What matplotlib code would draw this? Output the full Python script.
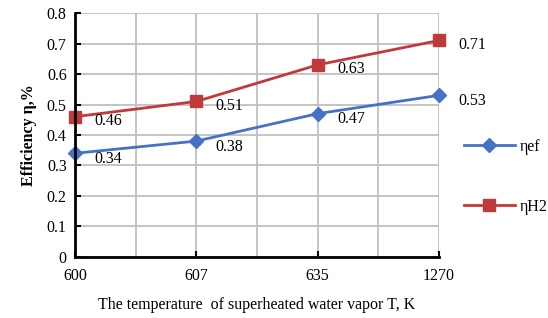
import matplotlib.pyplot as plt
from matplotlib.ticker import MultipleLocator

# data
temps = ["600", "607", "635", "1270"]
eta_ef = [0.34, 0.38, 0.47, 0.53]
eta_h2 = [0.46, 0.51, 0.63, 0.71]
yticks = [0, 0.1, 0.2, 0.3, 0.4, 0.5, 0.6, 0.7, 0.8]
ylabels = ["0", "0.1", "0.2", "0.3", "0.4", "0.5", "0.6", "0.7", "0.8"]

plt.rcParams["font.family"] = ["Liberation Serif", "DejaVu Serif"]
fs = 11.5

fig = plt.figure(figsize=(5.48, 3.18), dpi=100)
ax = fig.add_axes([0.137, 0.192, 0.664, 0.767])

x = list(range(len(temps)))
blue = "#4472C4"
red = "#C0393B"

ax.plot(x, eta_ef, color=blue, lw=2, marker="D", ms=7.5, label="ηef", zorder=3, clip_on=False)
ax.plot(x, eta_h2, color=red, lw=2, marker="s", ms=9, label="ηH2", zorder=3, clip_on=False)

for xi, v in zip(x, eta_ef):
    ax.annotate(f"{v:.2f}", (xi, v), xytext=(14, -4), textcoords="offset points",
                ha="left", va="center", fontsize=fs)
for xi, v in zip(x, eta_h2):
    ax.annotate(f"{v:.2f}", (xi, v), xytext=(14, -3), textcoords="offset points",
                ha="left", va="center", fontsize=fs)

ax.set_xlim(0, 3)
ax.set_ylim(0, 0.8)
ax.set_xticks(x)
ax.set_xticklabels(temps, fontsize=fs)
ax.xaxis.set_minor_locator(MultipleLocator(0.5))
ax.set_yticks(yticks)
ax.set_yticklabels(ylabels, fontsize=fs)

ax.grid(True, which="major", color="#BFBFBF", lw=1.3)
ax.grid(True, which="minor", axis="x", color="#BFBFBF", lw=1.3)
ax.set_axisbelow(True)

for s in ["top", "right"]:
    ax.spines[s].set_visible(False)
for s in ["left", "bottom"]:
    ax.spines[s].set_linewidth(2)
    ax.spines[s].set_zorder(4)

ax.tick_params(axis="both", which="major", direction="in", length=4, width=1.5, pad=8)
ax.tick_params(axis="x", which="minor", length=0)
ax.tick_params(axis="y", pad=6)

ax.set_xlabel("The temperature  of superheated water vapor T, K", fontsize=fs, labelpad=9)
ax.set_ylabel("Efficiency η,%", fontsize=fs, fontweight="bold", labelpad=7)

ax.legend(loc="upper left", bbox_to_anchor=(1.05, 0.51), frameon=False, fontsize=fs,
          labelspacing=2.75, handlelength=3.2, handletextpad=0.3, borderaxespad=0)

fig.savefig("out.png", dpi=100)
